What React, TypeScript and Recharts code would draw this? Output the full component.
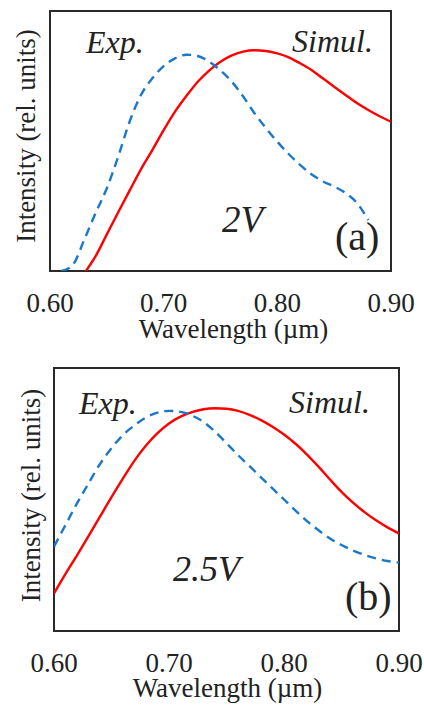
import React from 'react';
import { LineChart, Line, XAxis, YAxis, ReferenceArea, Label } from 'recharts';

const wavelengths = [
  0.6, 0.61, 0.62, 0.63, 0.64, 0.65, 0.66, 0.67, 0.68, 0.69, 0.7, 0.71, 0.72, 0.73, 0.74, 0.75,
  0.76, 0.77, 0.78, 0.79, 0.8, 0.81, 0.82, 0.83, 0.84, 0.85, 0.86, 0.87, 0.88, 0.89, 0.9,
];
const xTicks = [0.6, 0.7, 0.8, 0.9];

// panel (a) 2V
const exp2V = [
  null, 0.0, 0.023, 0.119, 0.222, 0.318, 0.44, 0.574, 0.677, 0.741, 0.788, 0.818, 0.832, 0.827, 0.805, 0.771,
  0.728, 0.671, 0.606, 0.549, 0.497, 0.45, 0.408, 0.372, 0.345, 0.325, 0.3, 0.262, 0.196, null, null,
];
const sim2V = [
  null, null, null, -0.01, 0.056, 0.141, 0.226, 0.309, 0.391, 0.465, 0.542, 0.613, 0.673, 0.728, 0.771, 0.805,
  0.829, 0.844, 0.849, 0.846, 0.837, 0.822, 0.799, 0.773, 0.741, 0.709, 0.677, 0.646, 0.619, 0.595, 0.574,
];

// panel (b) 2.5V
const exp25V = [
  0.321, 0.403, 0.485, 0.561, 0.635, 0.695, 0.745, 0.782, 0.812, 0.83, 0.837, 0.833, 0.819, 0.795, 0.758, 0.714,
  0.669, 0.627, 0.584, 0.542, 0.5, 0.458, 0.418, 0.383, 0.352, 0.327, 0.306, 0.289, 0.276, 0.266, 0.26,
];
const sim25V = [
  0.143, 0.217, 0.288, 0.361, 0.435, 0.509, 0.58, 0.648, 0.705, 0.752, 0.789, 0.815, 0.832, 0.843, 0.847, 0.845,
  0.837, 0.822, 0.802, 0.777, 0.747, 0.712, 0.671, 0.625, 0.576, 0.529, 0.488, 0.452, 0.421, 0.394, 0.371,
];

const serif = 'Liberation Serif';
const ink = '#222';

function buildRows(exp: (number | null)[], sim: (number | null)[]) {
  return wavelengths.map((w, i) => ({ w, exp: exp[i], sim: sim[i] }));
}

interface Note {
  text: string;
  italic?: boolean;
  size: number;
  right?: boolean;
  dx: number;
  dy: number;
}

interface PanelProps {
  rows: { w: number; exp: number | null; sim: number | null }[];
  height: number;
  margin: { top: number; right: number; bottom: number; left: number };
  yAxisWidth: number;
  xLabelDx: number;
  xLabelOffset: number;
  yLabelDy: number;
  notes: Note[];
}

function Panel({ rows, height, margin, yAxisWidth, xLabelDx, xLabelOffset, yLabelDy, notes }: PanelProps) {
  return (
    <LineChart width={424} height={height} data={rows} margin={margin} style={{ fontFamily: serif }}>
      <XAxis
        dataKey="w"
        type="number"
        domain={[0.6, 0.9]}
        ticks={xTicks}
        tickFormatter={(v: number) => v.toFixed(2)}
        axisLine={false}
        tickLine={false}
        tickMargin={16}
        height={70}
        tick={{ fontFamily: serif, fontSize: 27, fill: ink }}
        allowDataOverflow
      >
        <Label
          value="Wavelength (µm)"
          position="insideBottom"
          offset={xLabelOffset}
          dx={xLabelDx}
          fontFamily={serif}
          fontSize={27}
          fill={ink}
        />
      </XAxis>
      <YAxis
        type="number"
        domain={[0, 1]}
        width={yAxisWidth}
        tick={false}
        axisLine={false}
        tickLine={false}
        allowDataOverflow
      >
        <Label
          value="Intensity (rel. units)"
          angle={-90}
          position="center"
          dy={yLabelDy}
          fontFamily={serif}
          fontSize={27}
          fill={ink}
        />
      </YAxis>
      <ReferenceArea x1={0.6} x2={0.9} y1={0} y2={1} fill="none" stroke="#2a2a2a" strokeWidth={2}>
        {notes.map((n, i) => (
          <Label
            key={i}
            value={n.text}
            position={n.right ? 'insideTopRight' : 'insideTopLeft'}
            offset={0}
            dx={n.dx}
            dy={n.dy}
            fontFamily={serif}
            fontSize={n.size}
            fontStyle={n.italic ? 'italic' : 'normal'}
            fill={ink}
          />
        ))}
      </ReferenceArea>
      <Line
        dataKey="sim"
        type="monotone"
        stroke="#ff0000"
        strokeWidth={2.4}
        dot={false}
        connectNulls={false}
        isAnimationActive={false}
      />
      <Line
        dataKey="exp"
        type="monotone"
        stroke="#1a78c8"
        strokeWidth={2.4}
        strokeDasharray="9 6"
        dot={false}
        connectNulls={false}
        isAnimationActive={false}
      />
    </LineChart>
  );
}

const notesA: Note[] = [
  { text: 'Exp.', italic: true, size: 32, dx: 36, dy: 19 },
  { text: 'Simul.', italic: true, size: 32, right: true, dx: -18, dy: 18 },
  { text: '2V', italic: true, size: 37, dx: 172, dy: 195 },
  { text: '(a)', size: 40, dx: 285, dy: 211 },
];

const notesB: Note[] = [
  { text: 'Exp.', italic: true, size: 32, dx: 25, dy: 23 },
  { text: 'Simul.', italic: true, size: 32, right: true, dx: -29, dy: 22 },
  { text: '2.5V', italic: true, size: 36, dx: 119, dy: 187 },
  { text: '(b)', size: 40, dx: 291, dy: 214 },
];

export default function App() {
  return (
    <div style={{ position: 'absolute', left: 0, top: 0, width: 424, height: 709, background: '#fff' }}>
      <div style={{ position: 'absolute', left: 0, top: 0 }}>
        <Panel
          rows={buildRows(exp2V, sim2V)}
          height={350}
          margin={{ top: 11, right: 33, bottom: 9, left: 0 }}
          yAxisWidth={50}
          xLabelDx={13}
          xLabelOffset={3}
          yLabelDy={-5}
          notes={notesA}
        />
      </div>
      <div style={{ position: 'absolute', left: 0, top: 350 }}>
        <Panel
          rows={buildRows(exp25V, sim25V)}
          height={359}
          margin={{ top: 18, right: 25, bottom: 8, left: 6 }}
          yAxisWidth={48}
          xLabelDx={1}
          xLabelOffset={4}
          yLabelDy={-4}
          notes={notesB}
        />
      </div>
    </div>
  );
}
